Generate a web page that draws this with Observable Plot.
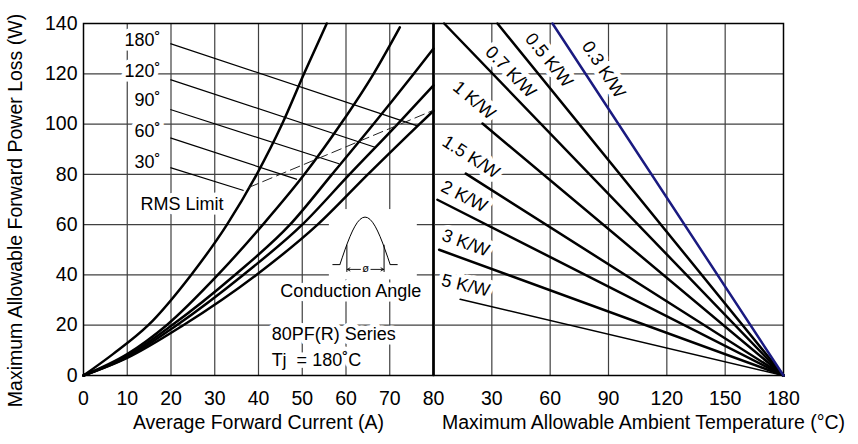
<!DOCTYPE html>
<html><head><meta charset="utf-8">
<script src="https://cdn.jsdelivr.net/npm/d3@7"></script>
<script src="https://cdn.jsdelivr.net/npm/@observablehq/plot@0.6"></script>
<style>
html,body{margin:0;padding:0;background:#fff;}
#wrap{position:relative;width:858px;height:444px;overflow:hidden;background:#fff;}
#left,#right{position:absolute;top:0;}
#left{left:0;}
#right{left:433px;}
</style></head><body>
<div id="wrap"><div id="left"></div><div id="right"></div></div>
<script>
// ---------- data ----------
const currentTicks = [0, 10, 20, 30, 40, 50, 60, 70, 80];
const tempTicks = [30, 60, 90, 120, 150, 180];
const powerTicks = [0, 20, 40, 60, 80, 100, 120, 140];

const angleNames = ["30˚", "60˚", "90˚", "120˚", "180˚"];
// [average forward current (A), power loss (W)]
const curve30  = [[0,0],[6.8,8.6],[14.8,20],[24.6,40],[32.8,60],[39.6,80],[45.4,100],[50.4,120],[55.6,140]];
const curve60  = [[0,0],[10,8.5],[19,20],[30.7,40],[41,60],[50.5,80],[58.8,100],[66.3,120],[72.3,138.5]];
const curve90  = [[0,0],[10,7.8],[20.2,20],[34.6,40],[47.2,60],[56.8,80],[66.3,100],[75.5,120],[80,130]];
const curve120 = [[0,0],[10,7.3],[21.3,20],[36.5,40],[50,60],[60.8,80],[71.8,100],[80,115.4]];
const curve180 = [[0,0],[10,7],[22.8,20],[39.5,40],[53.5,60],[65,80],[76.8,100],[80,105.3]];

// angle label leader lines (current, power)
const leaderStart = [[19.85,82.7],[19.85,94.5],[19.85,105.8],[19.85,117.7],[19.85,132]];
const leaderEnd   = [[36.6,73.6],[48.8,78],[58.4,84.2],[66.8,90.7],[76.3,99.3]];
const angleLabelAt = [[17.6,84.7],[17.6,97.1],[17.6,109.5],[17.6,121.1],[17.6,133.4]];
const rmsLimit = [[37.8,74.8],[80,105.5]];

// right panel: thermal resistance lines, start (ambient °C, W) -> (180, 0)
const resistances = ["0.3 K/W","0.5 K/W","0.7 K/W","1 K/W","1.5 K/W","2 K/W","3 K/W","5 K/W"];
const resStart = [[61.2,140],[32.9,140],[5.5,140],[25.2,100.2],[16.6,80.3],[2.0,69.9],[2.9,50.0],[13.7,30.3]];
const resEnd = [180, 0];
const resLabelAt = [[87.5,121.7],[59.4,125.4],[39.7,120.7],[20.9,109.5],[19.3,86.9],[15.8,71.2],[16.6,52.7],[16.6,35.8]];

// ---------- build tables ----------
const lossRows = [];
[curve30, curve60, curve90, curve120, curve180].forEach((c, i) =>
  c.forEach(([a, w]) => lossRows.push({angle: angleNames[i], current: a, power: w})));
const leaders = angleNames.map((n, i) => ({n, x1: leaderStart[i][0], y1: leaderStart[i][1], x2: leaderEnd[i][0], y2: leaderEnd[i][1]}));
const angleLabels = angleNames.map((n, i) => ({n, x: angleLabelAt[i][0], y: angleLabelAt[i][1]}));
const rmsRows = rmsLimit.map(([x, y]) => ({x, y}));

const resRows = [];
resistances.forEach((r, i) => {
  resRows.push({r, temp: resStart[i][0], power: resStart[i][1]});
  resRows.push({r, temp: resEnd[0], power: resEnd[1]});
});

// ---------- layout ----------
const FONT = '"Liberation Sans", Arial, Helvetica, sans-serif';
const H = 444, MT = 23, MB = 69;
const frameW = 350, frameH = H - MT - MB;
const resLabels = resistances.map((r, i) => {
  const [t0, p0] = resStart[i];
  const dy = p0 / 140 * frameH, dx = (resEnd[0] - t0) / 180 * frameW;
  return {r, x: resLabelAt[i][0], y: resLabelAt[i][1], rot: Math.atan2(dy, dx) * 180 / Math.PI};
});

const base = {fontFamily: FONT, fontSize: "19.5px", background: "none", color: "#000", overflow: "visible"};
const haloOpts = {fill: "white", stroke: "white", strokeWidth: 9, strokeLinejoin: "round"};
const gridStyle = {stroke: "#404040", strokeOpacity: 1, strokeWidth: 1.2};

// conduction-angle waveform icon (decorative glyph)
const iconArc = d3.range(0, 1.0001, 0.05).map(t => ({x: 58.6 + 11.5 * t, y: 44.1 + 18.9 * Math.sin(Math.PI * t)}));
const iconSegs = [
  {x1: 56.9, y1: 44.1, x2: 58.6, y2: 44.1},
  {x1: 70.1, y1: 44.1, x2: 71.8, y2: 44.1},
  {x1: 60.2, y1: 41.2, x2: 60.2, y2: 52.0},
  {x1: 68.7, y1: 41.2, x2: 68.7, y2: 52.0}
];
const iconArrows = [
  {x1: 63.3, y1: 42.2, x2: 60.3, y2: 42.2},
  {x1: 65.7, y1: 42.2, x2: 68.6, y2: 42.2}
];
const iconBox = [{x1: 56.2, x2: 76.3, y1: 38, y2: 66}];

const notesMid = [
  {t: "RMS Limit", x: 22.5, y: 68.3},
  {t: "Conduction Angle", x: 61.1, y: 33.5}
];
const notesStart = [
  {t: "80PF(R) Series", x: 43, y: 16.6},
  {t: "Tj\u00a0 = 180˚C", x: 43, y: 6.0}
];

const leftPlot = Plot.plot({
  width: 433, height: H, marginLeft: 83, marginRight: 0, marginTop: MT, marginBottom: MB,
  style: base,
  x: {domain: [0, 80]},
  y: {domain: [0, 140]},
  marks: [
    Plot.gridX(currentTicks.slice(1, -1), gridStyle),
    Plot.gridY(powerTicks.slice(1, -1), gridStyle),
    Plot.rect(iconBox, {x1: "x1", x2: "x2", y1: "y1", y2: "y2", fill: "white"}),
    Plot.text(angleLabels, {x: "x", y: "y", text: "n", textAnchor: "end", fontSize: 18, ...haloOpts}),
    Plot.text(notesMid, {x: "x", y: "y", text: "t", textAnchor: "middle", fontSize: 18, ...haloOpts}),
    Plot.text(notesStart, {x: "x", y: "y", text: "t", textAnchor: "start", fontSize: 18, ...haloOpts}),
    Plot.frame({stroke: "#000", strokeWidth: 1.5}),
    Plot.ruleX([80], {stroke: "#000", strokeWidth: 2.6}),
    Plot.line(lossRows, {x: "current", y: "power", z: "angle", curve: "monotone-x", stroke: "#000", strokeWidth: 2.5}),
    Plot.link(leaders, {x1: "x1", y1: "y1", x2: "x2", y2: "y2", stroke: "#000", strokeWidth: 1.2}),
    Plot.line(rmsRows, {x: "x", y: "y", stroke: "#222", strokeWidth: 1, strokeDasharray: "10,5"}),
    Plot.line(iconArc, {x: "x", y: "y", stroke: "#000", strokeWidth: 1}),
    Plot.link(iconSegs, {x1: "x1", y1: "y1", x2: "x2", y2: "y2", stroke: "#000", strokeWidth: 1}),
    Plot.arrow(iconArrows, {x1: "x1", y1: "y1", x2: "x2", y2: "y2", stroke: "#000", strokeWidth: 0.9, headLength: 5}),
    Plot.text(["ø"], {x: 64.5, y: 42.6, text: d => d, fontSize: 11}),
    Plot.text(angleLabels, {x: "x", y: "y", text: "n", textAnchor: "end", fontSize: 18, fill: "#000"}),
    Plot.text(notesMid, {x: "x", y: "y", text: "t", textAnchor: "middle", fontSize: 18, fill: "#000"}),
    Plot.text(notesStart, {x: "x", y: "y", text: "t", textAnchor: "start", fontSize: 18, fill: "#000"}),
    Plot.axisX({ticks: currentTicks, tickSize: 0, tickPadding: 16, label: null, fontSize: 19.5}),
    Plot.axisY({ticks: powerTicks, tickSize: 0, tickPadding: 6, label: null, fontSize: 19.5}),
    Plot.text(["Average Forward Current (A)"], {frameAnchor: "bottom", dy: 53, text: d => d, fontSize: 19.5}),
    Plot.text(["Maximum Allowable Forward Power Loss (W)"], {frameAnchor: "left", textAnchor: "middle", lineAnchor: "middle", dx: -68, dy: 11, rotate: -90, text: d => d, fontSize: 19.5})
  ]
});

const thick = resRows.filter(d => d.r !== "0.3 K/W" && d.r !== "5 K/W");
const navy = resRows.filter(d => d.r === "0.3 K/W");
const thin = resRows.filter(d => d.r === "5 K/W");

const rightPlot = Plot.plot({
  width: 425, height: H, marginLeft: 0, marginRight: 75, marginTop: MT, marginBottom: MB,
  style: base,
  x: {domain: [0, 180]},
  y: {domain: [0, 140], axis: null},
  marks: [
    Plot.gridX(tempTicks.slice(0, -1), gridStyle),
    Plot.gridY(powerTicks.slice(1, -1), gridStyle),
    Plot.text(resLabels, {x: "x", y: "y", text: "r", rotate: "rot", fontSize: 18, ...haloOpts}),
    Plot.frame({stroke: "#000", strokeWidth: 1.5}),
    Plot.line(thick, {x: "temp", y: "power", z: "r", stroke: "#000", strokeWidth: 2.5}),
    Plot.line(thin, {x: "temp", y: "power", z: "r", stroke: "#000", strokeWidth: 1.5}),
    Plot.line(navy, {x: "temp", y: "power", z: "r", stroke: "#1a1a80", strokeWidth: 2.5}),
    Plot.text(resLabels, {x: "x", y: "y", text: "r", rotate: "rot", fontSize: 18, fill: "#000"}),
    Plot.axisX({ticks: tempTicks, tickSize: 0, tickPadding: 16, label: null, fontSize: 19.5}),
    Plot.text(["Maximum Allowable Ambient Temperature (°C)"], {frameAnchor: "bottom", dx: 35, dy: 53, text: d => d, fontSize: 19.5})
  ]
});

document.getElementById("left").appendChild(leftPlot);
document.getElementById("right").appendChild(rightPlot);
</script>
</body></html>
